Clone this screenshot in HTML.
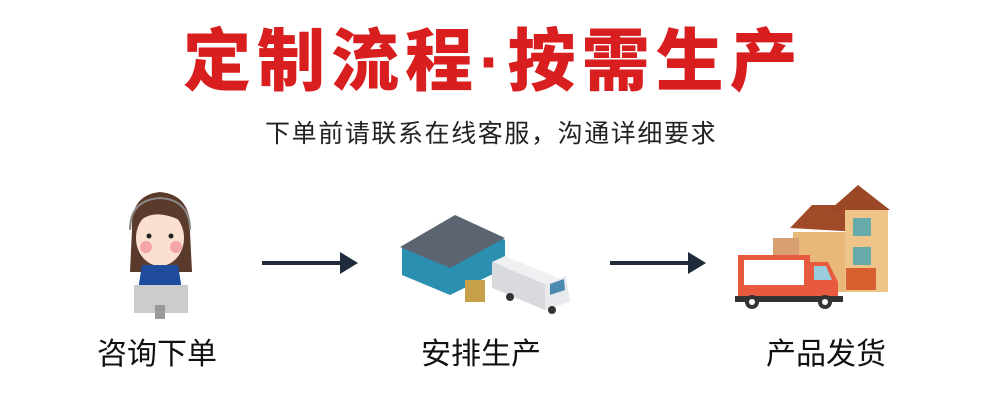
<!DOCTYPE html>
<html><head><meta charset="utf-8"><style>
html,body{margin:0;padding:0;background:#fff;}
body{width:990px;height:410px;position:relative;overflow:hidden;font-family:"Liberation Sans","Noto Sans CJK SC",sans-serif;}
.t{position:absolute;white-space:nowrap;}
</style></head><body>
<div class="t" style="left:183px;top:22px;font-size:68px;font-weight:900;color:#d81e1e;letter-spacing:6px;line-height:80px;">定制流程·按需生产</div>
<div class="t" style="left:265px;top:118px;font-size:25px;color:#222;letter-spacing:1.6px;line-height:32px;">下单前请联系在线客服，沟通详细要求</div>
<div class="t" style="left:97px;top:336px;font-size:30px;color:#111;line-height:38px;">咨询下单</div>
<div class="t" style="left:421px;top:336px;font-size:30px;color:#111;line-height:38px;">安排生产</div>
<div class="t" style="left:766px;top:336px;font-size:30px;color:#111;line-height:38px;">产品发货</div>
<svg width="990" height="410" style="position:absolute;left:0;top:0">
<g stroke="#1f2a3a" stroke-width="4" fill="#1f2a3a">
<line x1="262" y1="263" x2="345" y2="263"/><path d="M340 252 L358 263 L340 274 Z" stroke="none"/>
<line x1="610" y1="263" x2="693" y2="263"/><path d="M688 252 L706 263 L688 274 Z" stroke="none"/>
</g>
<!-- agent -->
<path d="M132 230 Q130 195 160 192 Q192 195 190 232 L192 272 L130 272 Z" fill="#5a3a2a"/>
<ellipse cx="160" cy="238" rx="24" ry="28" fill="#fbe0d0"/>
<path d="M136 226 Q150 205 184 222 Q180 200 160 198 Q138 200 136 226Z" fill="#5a3a2a"/>
<circle cx="149" cy="236" r="2.5" fill="#222"/><circle cx="171" cy="236" r="2.5" fill="#222"/>
<circle cx="146" cy="247" r="6" fill="#f4a6a6"/><circle cx="176" cy="247" r="6" fill="#f4a6a6"/>
<path d="M130 230 Q130 200 160 198 Q190 200 190 230" stroke="#888" stroke-width="2" fill="none"/>
<path d="M142 265 L178 265 L182 290 L138 290Z" fill="#1e4b9c"/>
<rect x="134" y="285" width="54" height="28" fill="#ccc"/>
<rect x="155" y="305" width="10" height="14" fill="#999"/>
<!-- factory -->
<path d="M402 248 L460 220 L505 240 L505 268 L450 295 L402 275Z" fill="#2a8fb0"/>
<path d="M400 247 L455 215 L505 238 L450 268Z" fill="#5b6470"/>
<path d="M492 262 L545 284 L545 310 L492 288Z" fill="#d8dade"/>
<path d="M492 262 L505 256 L558 278 L545 284Z" fill="#eef0f2"/>
<path d="M545 284 L566 276 L570 302 L545 310Z" fill="#e8eaee"/>
<path d="M550 284 L564 279 L565 290 L550 295Z" fill="#4a8ab0"/>
<rect x="465" y="280" width="20" height="22" fill="#c8a04a"/>
<circle cx="510" cy="297" r="4" fill="#333"/><circle cx="552" cy="310" r="4" fill="#333"/>
<!-- house -->
<path d="M793 232 L855 232 L855 292 L793 292Z" fill="#e8b878"/>
<path d="M790 228 L812 205 L860 205 L860 232Z" fill="#a04a28"/>
<path d="M835 205 L858 186 L888 210 L888 292 L845 292 L845 210Z" fill="#eec488"/>
<path d="M830 210 L858 185 L890 210Z" fill="#9a4826"/>
<rect x="853" y="218" width="18" height="18" fill="#6aa"/><rect x="853" y="247" width="18" height="18" fill="#6aa"/>
<rect x="846" y="268" width="30" height="22" fill="#d86030"/>
<rect x="773" y="238" width="26" height="18" fill="#d8a070"/>
<!-- truck -->
<rect x="738" y="255" width="72" height="42" fill="#e85a40"/>
<rect x="744" y="260" width="60" height="25" fill="#fff"/>
<path d="M810 262 L828 262 L838 282 L838 300 L810 300Z" fill="#e85a40"/>
<path d="M814 266 L826 266 L832 280 L814 280Z" fill="#9cd"/>
<rect x="735" y="296" width="108" height="6" fill="#333"/>
<circle cx="752" cy="302" r="7" fill="#333"/><circle cx="752" cy="302" r="3" fill="#fff"/>
<circle cx="825" cy="302" r="7" fill="#333"/><circle cx="825" cy="302" r="3" fill="#fff"/>
</svg>
</body></html>
